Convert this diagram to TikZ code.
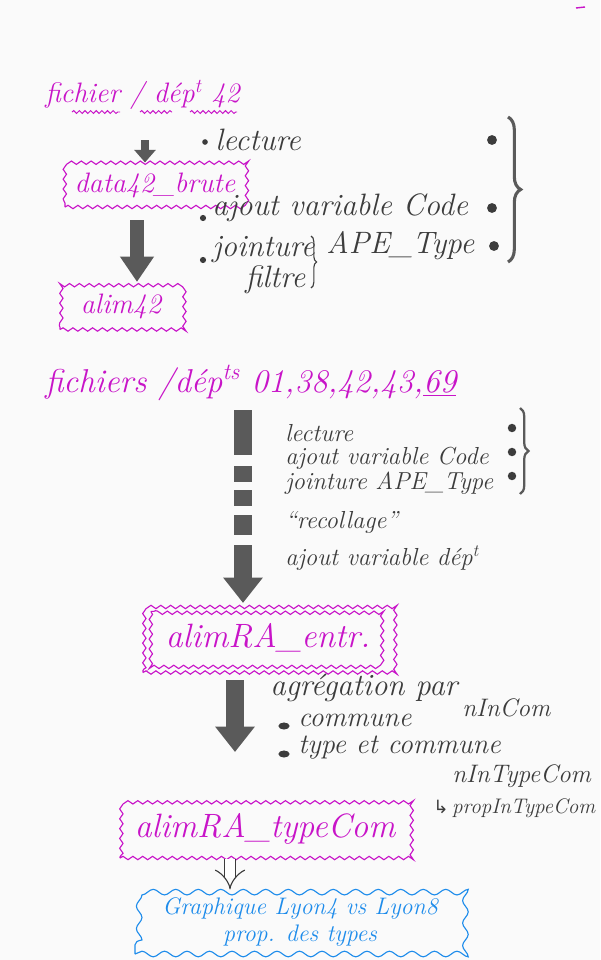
\documentclass[tikz,border=0pt]{standalone}
\usepackage{fontspec}
\newfontfamily\symbfont{DejaVu Sans}
\usetikzlibrary{arrows.meta,decorations.pathmorphing,decorations.pathreplacing,positioning}

\definecolor{paper}{RGB}{250,250,250}
\definecolor{penmagenta}{RGB}{200,20,200}
\definecolor{inkgray}{RGB}{60,60,60}
\definecolor{arrowgray}{RGB}{90,90,90}
\definecolor{penblue}{RGB}{30,140,235}

\tikzset{
  title/.style={text=penmagenta, font=\itshape\fontsize{20}{22}\selectfont, inner sep=0pt, anchor=west},
  hand/.style={text=inkgray, font=\itshape\fontsize{22}{24}\selectfont, inner sep=0pt, anchor=west},
  handsmall/.style={hand, font=\itshape\fontsize{17.5}{19}\selectfont},
  handnote/.style={hand, font=\itshape\fontsize{18}{20}\selectfont},
  wbox/.style={draw=penmagenta, line width=0.8pt, text=penmagenta,
    font=\itshape\fontsize{20}{22}\selectfont,
    decorate, decoration={snake, amplitude=1.2pt, segment length=7pt}},
  bigtext/.style={font=\itshape\fontsize{24}{26}\selectfont},
  wline/.style={draw=penmagenta, line width=0.8pt,
    decorate, decoration={snake, amplitude=1.2pt, segment length=7pt}},
  underwave/.style={draw=penmagenta, line width=0.7pt,
    decorate, decoration={snake, amplitude=1pt, segment length=4pt}},
  cloudbox/.style={draw=penblue, line width=0.8pt, text=penblue, align=center,
    font=\itshape\fontsize{17}{19}\selectfont,
    decorate, decoration={snake, segment length=16pt, amplitude=2pt}},
  arrowS/.style={draw=arrowgray, line width=5.5pt, -{Triangle[length=9pt,width=15pt]}},
  arrowM/.style={draw=arrowgray, line width=10pt, -{Triangle[length=18pt,width=23pt]}},
  arrowL/.style={draw=arrowgray, line width=13pt, -{Triangle[length=18pt,width=27pt]}},
  hollowarrow/.style={draw=inkgray, line width=0.8pt, double, double distance=7pt,
    -{Implies}},
  bigbrace/.style={draw=arrowgray, line width=2.2pt, decorate, decoration={brace, amplitude=9pt}},
  smallbrace/.style={draw=inkgray, line width=0.8pt, decorate, decoration={brace, amplitude=4pt}},
  dot/.style={fill=inkgray}
}

\begin{document}
\begin{tikzpicture}[x=0.025cm, y=-0.025cm]
\useasboundingbox (0,0) rectangle (600,960);
\fill[paper] (0,0) rectangle (600,960);
\draw[penmagenta, line width=1pt] (576,8) -- (585,7);

% fichier 42
\node[title] (fic42) at (45,95) {fichier / dép\textsuperscript{t} 42};
\draw[underwave] (72,112) -- (120,112);
\draw[underwave] (140,112) -- (172,112);
\draw[underwave] (190,112) -- (237,112);

\node[wbox, minimum width=4.5cm, minimum height=1.1cm] (data42) at (155,185) {data42\_brute};
\node[wbox, minimum width=3.05cm, minimum height=1.175cm] (alim42) at (121,306) {alim42};

\coordinate (a1) at (145,140);
\draw[arrowS] (a1) -- (data42.north -| a1);
\coordinate (a2) at (137,220);
\draw[arrowM] (a2) -- (alim42.north -| a2);

% etapes 42
\node[hand] (lect1) at (215,140) {lecture};
\node[hand] (code1) at (212,208) {ajout variable Code};
\node[hand] (joint1) at (212,250) {jointure};
\node[hand] (filt1) at (245,280) {filtre};
\node[hand] (ape1) at (326,246) {APE\_Type};
\fill[dot] (205,142) circle (2pt);
\fill[dot] (203,218) circle (2.2pt);
\fill[dot] (203,260) circle (2.2pt);
\fill[dot] (492,140) circle (3.5pt);
\fill[dot] (492,208) circle (3.5pt);
\fill[dot] (494,246) circle (3.5pt);
\draw[smallbrace] (311,236) -- (311,288);
\draw[bigbrace] (508,117) -- (508,262);

% fichiers RA
\node[title, font=\itshape\fontsize{23.5}{25}\selectfont] (ficRA) at (45,383) {fichiers /dép\textsuperscript{ts} 01,38,42,43,\underline{69}};

\node[handsmall] (lect2) at (285,433) {lecture};
\node[handsmall] (code2) at (285,458) {ajout variable Code};
\node[handsmall] (joint2) at (285,483) {jointure APE\_Type};
\fill[dot] (512,428) circle (3pt);
\fill[dot] (512,452) circle (3pt);
\fill[dot] (512,476) circle (3pt);
\draw[bigbrace, line width=1.6pt, decoration={amplitude=6pt}] (520,408) -- (520,494);
\node[handsmall] (recol) at (285,522) {“recollage”};
\node[handsmall] (dep) at (285,558) {ajout variable dép\textsuperscript{t}};

\node[wbox, bigtext, minimum width=6.25cm, minimum height=1.725cm] (alimE) at (268,638) {alimRA\_entr.};
\draw[wline] ([shift={(6pt,-6pt)}]alimE.north west) rectangle ([shift={(-6pt,6pt)}]alimE.south east);

\coordinate (a3) at (243,410);
\draw[arrowL, dash pattern=on 32pt off 8pt on 11pt off 6pt on 11pt off 7pt on 14pt off 7pt on 200pt] (a3) -- (alimE.north -| a3);

% agregation
\coordinate (a4) at (235,680);
\coordinate (a4e) at (235,752);
\draw[arrowL] (a4) -- (a4e);
\node[hand] (aggr) at (270,688) {agrégation par};
\fill[dot] (284,726) ellipse (4pt and 2.5pt);
\node[hand, font=\itshape\fontsize{20}{22}\selectfont] (comm) at (298,720) {commune};
\fill[dot] (284,754) ellipse (4pt and 2.5pt);
\node[hand, font=\itshape\fontsize{20}{22}\selectfont] (typec) at (298,748) {type et commune};
\node[handnote] (nInCom) at (462,708) {nInCom};
\node[handnote] (nInTC) at (452,776) {nInTypeCom};
\node[handnote, font=\itshape\fontsize{15}{17}\selectfont] (propTC) at (433,808) {{\symbfont\fontsize{13}{15}\selectfont ↳}\,propInTypeCom};

\node[wbox, bigtext, minimum width=7.25cm, minimum height=1.45cm] (alimT) at (265,829) {alimRA\_typeCom};

\node[cloudbox, minimum width=8.25cm, minimum height=1.6cm] (graph) at (300,922) {Graphique Lyon4 vs Lyon8\\prop. des types};

\coordinate (a5) at (230,0);
\draw[hollowarrow] (alimT.south -| a5) -- (graph.north -| a5);
\end{tikzpicture}
\end{document}
